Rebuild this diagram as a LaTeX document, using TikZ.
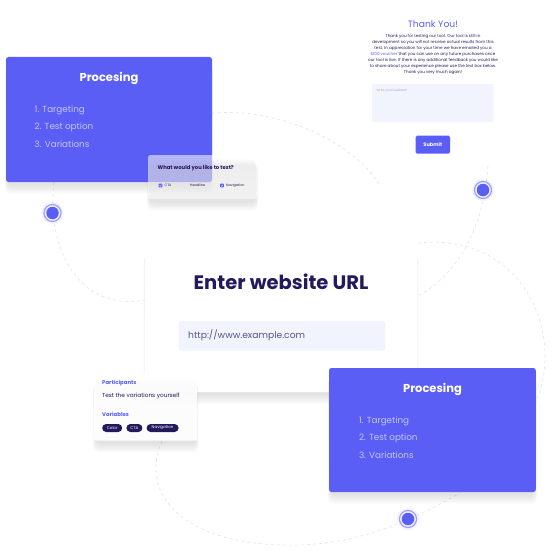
\documentclass[tikz,border=0pt]{standalone}
\usepackage{fontspec}
\setmainfont{Poppins}
\usetikzlibrary{positioning}

\definecolor{brand}{HTML}{5A5EF5}
\definecolor{brandlt}{HTML}{C4C6FC}
\definecolor{navy}{HTML}{221A5C}
\definecolor{field}{HTML}{F1F4FD}
\definecolor{trail}{HTML}{E1E1EA}
\definecolor{ring}{HTML}{9EA0F8}
\definecolor{shade}{HTML}{7A7DE0}

\tikzset{
  card/.style={fill=brand, rounded corners=2.5pt},
  panel/.style={fill=white, rounded corners=2.5pt},
  inputbox/.style={fill=field, rounded corners=2pt},
  trailline/.style={draw=trail, line width=0.6pt, dash pattern=on 3pt off 3pt},
  cardtitle/.style={text=white, font=\fontsize{11.5}{13}\selectfont\bfseries},
  listitem/.style={text=brandlt, font=\fontsize{8.8}{10}\selectfont, anchor=west, inner sep=0pt},
  smalltext/.style={anchor=west, inner sep=0pt},
  pill/.style={fill=navy, text=white, rounded corners=4pt, font=\fontsize{4}{4}\selectfont,
    inner xsep=2pt, inner ysep=0pt, minimum height=8pt},
  tickbox/.style={fill=brand, rounded corners=0.5pt, minimum size=3.6pt, inner sep=0pt},
  dotcore/.style={circle, fill=brand, minimum size=12.5pt, inner sep=0pt},
}

% soft purple shadow under a card
\newcommand{\cardshadow}[4]{%
  \foreach \k in {1,...,6}
    \fill[shade, opacity=0.018, rounded corners=5pt]
      (#1-\k*0.5+2, #2+\k*1.2+3) rectangle (#3+\k*0.5-2, #4+\k*1.6+2);
}

\begin{document}
\begin{tikzpicture}[x=1pt, y=-1pt]
  \useasboundingbox (0,0) rectangle (551,551);

  % Dashed trails
  \draw[trailline] (54,182) .. controls (46,250) and (80,312) .. (145,300);
  \draw[trailline] (212,113) .. controls (280,108) and (350,140) .. (380,185);
  \draw[trailline] (488,166) .. controls (484,222) and (462,272) .. (418,296);
  \draw[trailline] (418,243) .. controls (520,232) and (566,330) .. (536,402);
  \draw[trailline] (162,441) .. controls (138,495) and (185,548) .. (300,545)
    .. controls (350,543) and (395,530) .. (460,493);

  % Left card
  \cardshadow{6}{57}{212}{182}
  \fill[card] (6,57) rectangle (212,182);
  \node[cardtitle] (titleleft) at (109,78) {Procesing};
  \node[listitem] (itemA) at (34.5,110) {1. Targeting};
  \node[listitem] (itemB) at (34.5,127.5) {2. Test option};
  \node[listitem] (itemC) at (34.5,144.5) {3. Variations};

  % Test choice card
  \cardshadow{148}{155}{257}{199}
  \fill[panel, fill opacity=0.55] (148,155) rectangle (257,199);
  \node[smalltext, text=navy, font=\fontsize{5.3}{6}\selectfont\bfseries] (question) at (157.5,168.5)
    {What would you like to test?};
  \node[tickbox] (boxcta) at (160.5,185.5) {};
  \node[smalltext, text=navy, font=\fontsize{3.4}{4}\selectfont, right=2pt of boxcta] (optcta) {CTA};
  \node[smalltext, text=navy, font=\fontsize{3.4}{4}\selectfont] (opthead) at (190,185.5) {Headline};
  \node[tickbox] (boxnav) at (222,185.5) {};
  \node[smalltext, text=navy, font=\fontsize{3.4}{4}\selectfont, right=2pt of boxnav] (optnav) {Navigation};
  \foreach \b in {boxcta, boxnav}
    \draw[white, line width=0.35pt] ([shift={(-1,0)}]\b.center) -- ++(0.8,0.9) -- ++(1.3,-1.8);

  % Thank you form
  \node[text=brand, font=\fontsize{9.2}{11}\selectfont] (thanks) at (433,24) {Thank You!};
  \node[text=navy, align=center, font=\fontsize{4.1}{6.05}\selectfont] (message) at (433,54.5)
    {Thank you for testing our tool. Our tool is still in\\
     development so you will not receive actual results from this\\
     test. In appreciation for your time we have emailed you a\\
     \textcolor{brand}{\$100 voucher} that you can use on any future purchases once\\
     our tool is live. If there is any additional feedback you would like\\
     to share about your experience please use the text box below.\\
     Thank you very much again!};
  \fill[inputbox] (372,84) rectangle (493.5,122);
  \node[smalltext, text=gray!70, font=\fontsize{3}{4}\selectfont] (hint) at (376.5,91) {Write your feedback};
  \fill[card, rounded corners=1.5pt] (415.6,135.7) rectangle (450,153.7);
  \node[text=white, font=\fontsize{5}{6}\selectfont\bfseries] (submit) at (432.8,144.7) {Submit};

  % URL card
  \cardshadow{144.5}{246}{417.7}{392}
  \fill[panel] (144.5,246) rectangle (417.7,392);
  \node[text=navy, font=\fontsize{19.5}{22}\selectfont\bfseries] (urltitle) at (281,282) {Enter website URL};
  \fill[inputbox] (178.7,321) rectangle (385,350.7);
  \node[smalltext, text=navy!75, font=\fontsize{9.2}{11}\selectfont] (urltext) at (188,335.5)
    {http://www.example.com};

  % Participants card
  \cardshadow{94}{373.6}{197.4}{440.6}
  \fill[panel, fill opacity=0.92] (94,373.6) rectangle (197.4,440.6);
  \node[smalltext, text=brand, font=\fontsize{5.4}{6}\selectfont\bfseries] (partlabel) at (102,383.5) {Participants};
  \node[smalltext, text=navy, font=\fontsize{5.8}{6}\selectfont] (parttext) at (102,396) {Test the variations yourself};
  \node[smalltext, text=brand, font=\fontsize{5.4}{6}\selectfont\bfseries] (varlabel) at (102,414.5) {Variables};
  \node[pill, anchor=west, minimum width=20pt] (pillcolor) at (102,428) {Color};
  \node[pill, minimum width=16pt, right=3.8pt of pillcolor] (pillcta) {CTA};
  \node[pill, minimum width=32pt, right=3.8pt of pillcta] (pillnav) {Navigation};

  % Right card
  \cardshadow{329}{368}{535.8}{492}
  \fill[card] (329,368) rectangle (535.8,492);
  \node[cardtitle] (titleright) at (432.5,389) {Procesing};
  \node[listitem] (itemD) at (358.8,421) {1. Targeting};
  \node[listitem] (itemE) at (358.8,438) {2. Test option};
  \node[listitem] (itemF) at (358.8,455) {3. Variations};

  % Step dots
  \foreach \n/\x/\y in {dotleft/52.5/213, dotright/483/190, dotbottom/408/519} {
    \fill[ring, opacity=0.15] (\x,\y) circle (11);
    \node[dotcore] (\n) at (\x,\y) {};
    \draw[ring, line width=1.2pt] (\n.center) circle (8.5);
  }
\end{tikzpicture}
\end{document}
